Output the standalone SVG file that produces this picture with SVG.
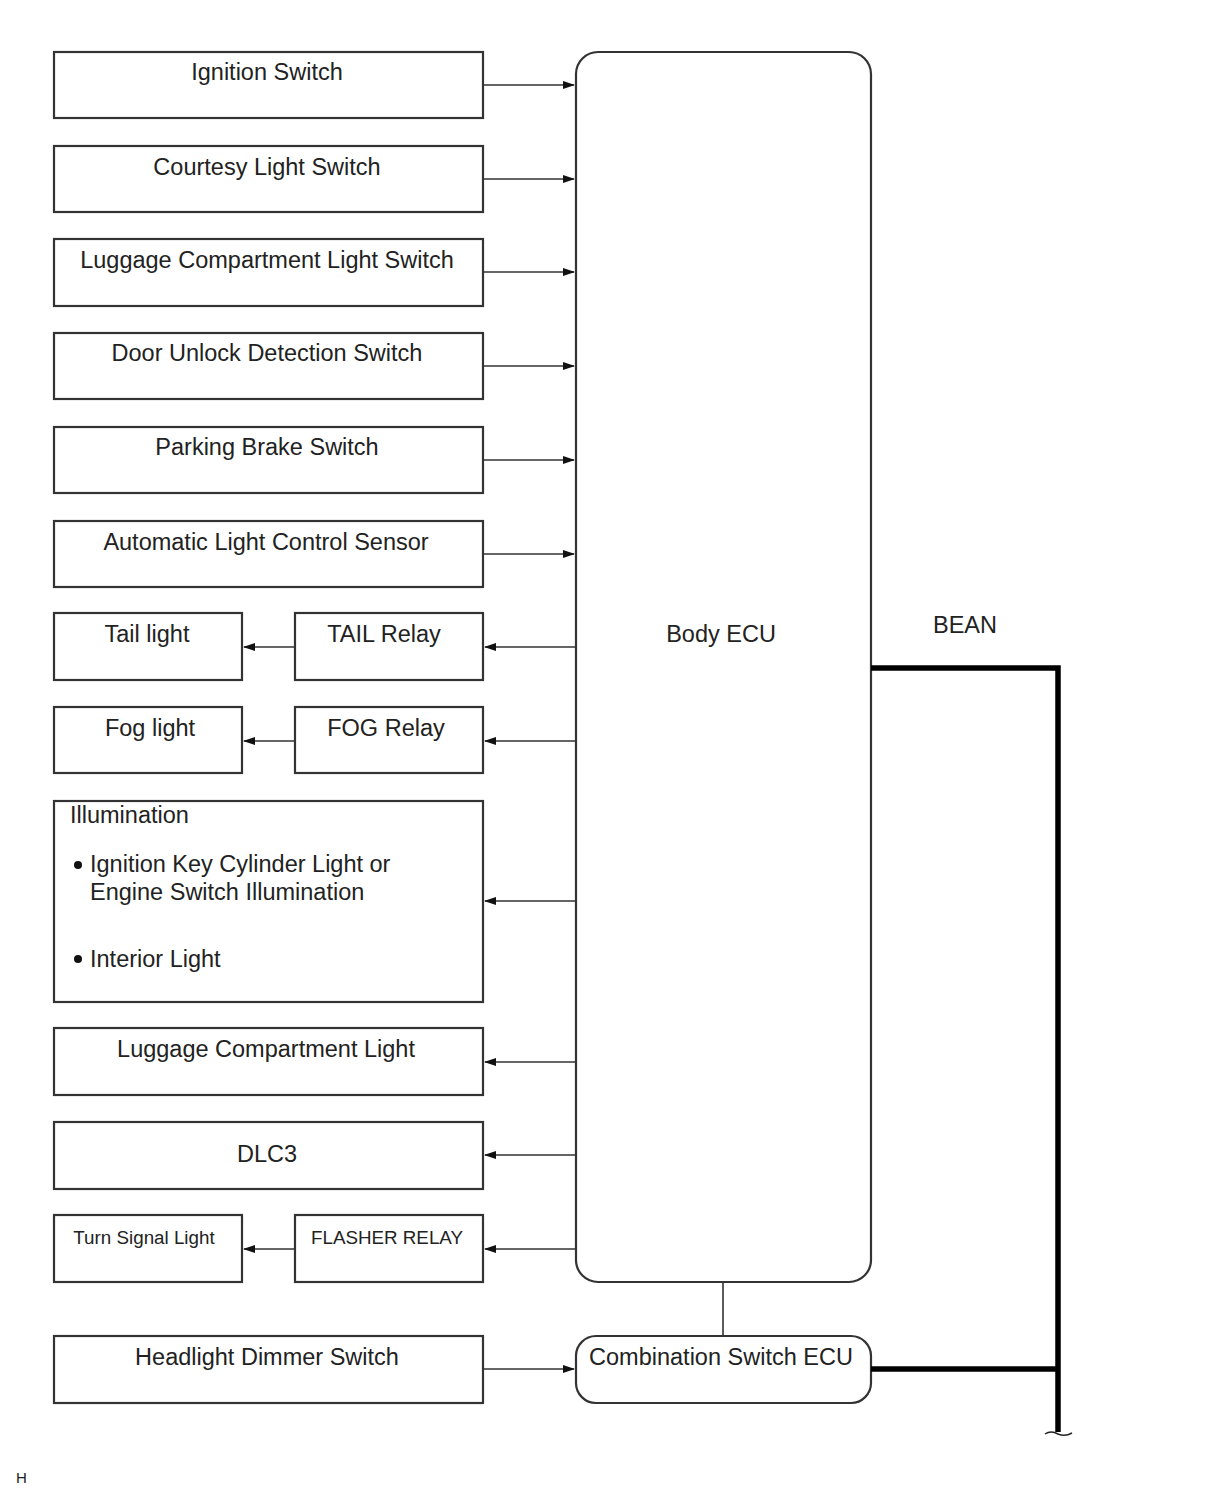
<svg xmlns="http://www.w3.org/2000/svg" width="1210" height="1498" viewBox="0 0 1210 1498">
<style>
.b{fill:#fff;stroke:#333;stroke-width:2.2}
.t{font-family:"Liberation Sans",Arial,sans-serif;font-size:23.5px;fill:#222;text-anchor:middle}
.s{font-family:"Liberation Sans",Arial,sans-serif;font-size:18.8px;fill:#222;text-anchor:middle}
.l{font-family:"Liberation Sans",Arial,sans-serif;font-size:23.5px;fill:#222}
.c{stroke:#333;stroke-width:1.6;fill:none}
.bean{stroke:#000;stroke-width:5.5;fill:none}
</style>
<defs>
<marker id="a" markerWidth="12" markerHeight="8" refX="11" refY="4" orient="auto" markerUnits="userSpaceOnUse">
<path d="M0,0 L12,4 L0,8 Z" fill="#111"/>
</marker>
</defs>
<g id="ignition"><rect class="b" x="54" y="52" width="429" height="66"/><text class="t" x="267" y="80">Ignition Switch</text></g>
<g id="courtesy"><rect class="b" x="54" y="146" width="429" height="66"/><text class="t" x="267" y="175">Courtesy Light Switch</text></g>
<g id="luggage-switch"><rect class="b" x="54" y="239" width="429" height="67"/><text class="t" x="267" y="268">Luggage Compartment Light Switch</text></g>
<g id="door-unlock"><rect class="b" x="54" y="333" width="429" height="66"/><text class="t" x="267" y="361">Door Unlock Detection Switch</text></g>
<g id="parking"><rect class="b" x="54" y="427" width="429" height="66"/><text class="t" x="267" y="455">Parking Brake Switch</text></g>
<g id="auto-light"><rect class="b" x="54" y="521" width="429" height="66"/><text class="t" x="266" y="550">Automatic Light Control Sensor</text></g>
<g id="tail-light"><rect class="b" x="54" y="613" width="188" height="67"/><text class="t" x="147" y="642">Tail light</text></g>
<g id="tail-relay"><rect class="b" x="295" y="613" width="188" height="67"/><text class="t" x="384" y="642">TAIL Relay</text></g>
<g id="fog-light"><rect class="b" x="54" y="707" width="188" height="66"/><text class="t" x="150" y="736">Fog light</text></g>
<g id="fog-relay"><rect class="b" x="295" y="707" width="188" height="66"/><text class="t" x="386" y="736">FOG Relay</text></g>
<g id="illumination"><rect class="b" x="54" y="801" width="429" height="201"/>
<text class="l" x="70" y="823">Illumination</text>
<circle cx="78" cy="865" r="4" fill="#111"/>
<text class="l" x="90" y="872">Ignition Key Cylinder Light or</text>
<text class="l" x="90" y="900">Engine Switch Illumination</text>
<circle cx="78" cy="959" r="4" fill="#111"/>
<text class="l" x="90" y="967">Interior Light</text></g>
<g id="luggage-light"><rect class="b" x="54" y="1028" width="429" height="67"/><text class="t" x="266" y="1057">Luggage Compartment Light</text></g>
<g id="dlc3"><rect class="b" x="54" y="1122" width="429" height="67"/><text class="t" x="267" y="1162">DLC3</text></g>
<g id="turn-signal"><rect class="b" x="54" y="1215" width="188" height="67"/><text class="s" x="144" y="1244">Turn Signal Light</text></g>
<g id="flasher"><rect class="b" x="295" y="1215" width="188" height="67"/><text class="s" x="387" y="1244">FLASHER RELAY</text></g>
<g id="dimmer"><rect class="b" x="54" y="1336" width="429" height="67"/><text class="t" x="267" y="1365">Headlight Dimmer Switch</text></g>
<g id="body-ecu"><rect class="b" x="576" y="52" width="295" height="1230" rx="22"/><text class="t" x="721" y="642">Body ECU</text></g>
<g id="comb-ecu"><rect class="b" x="576" y="1336" width="295" height="67" rx="20"/><text class="t" x="721" y="1365">Combination Switch ECU</text></g>
<g id="bean-label"><text class="t" x="965" y="633">BEAN</text></g>
<g id="connectors">
<line class="c" x1="483" y1="85" x2="574" y2="85" marker-end="url(#a)"/>
<line class="c" x1="483" y1="179" x2="574" y2="179" marker-end="url(#a)"/>
<line class="c" x1="483" y1="272" x2="574" y2="272" marker-end="url(#a)"/>
<line class="c" x1="483" y1="366" x2="574" y2="366" marker-end="url(#a)"/>
<line class="c" x1="483" y1="460" x2="574" y2="460" marker-end="url(#a)"/>
<line class="c" x1="483" y1="554" x2="574" y2="554" marker-end="url(#a)"/>
<line class="c" x1="576" y1="647" x2="485" y2="647" marker-end="url(#a)"/>
<line class="c" x1="295" y1="647" x2="244" y2="647" marker-end="url(#a)"/>
<line class="c" x1="576" y1="741" x2="485" y2="741" marker-end="url(#a)"/>
<line class="c" x1="295" y1="741" x2="244" y2="741" marker-end="url(#a)"/>
<line class="c" x1="576" y1="901" x2="485" y2="901" marker-end="url(#a)"/>
<line class="c" x1="576" y1="1062" x2="485" y2="1062" marker-end="url(#a)"/>
<line class="c" x1="576" y1="1155" x2="485" y2="1155" marker-end="url(#a)"/>
<line class="c" x1="576" y1="1249" x2="485" y2="1249" marker-end="url(#a)"/>
<line class="c" x1="295" y1="1249" x2="244" y2="1249" marker-end="url(#a)"/>
<line class="c" x1="483" y1="1369" x2="574" y2="1369" marker-end="url(#a)"/>
<line class="c" x1="723" y1="1282" x2="723" y2="1336"/>
<path class="bean" d="M871,668 H1058 V1432"/>
<path class="bean" d="M871,1369 H1058"/>
<path d="M1045,1434 q6,-4 13,0 q7,3 14,-1" stroke="#222" stroke-width="1.5" fill="none"/>
</g>
<text x="16" y="1483" font-family="Liberation Sans,Arial,sans-serif" font-size="15" fill="#222">H</text>
</svg>
